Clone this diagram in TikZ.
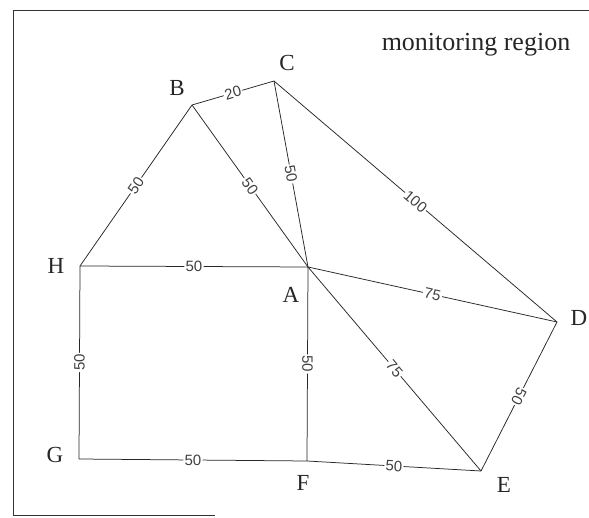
\documentclass[tikz,border=0pt]{standalone}
\usepackage{fontspec}
\setmainfont{Liberation Serif}
\newfontfamily\edgefont{Liberation Sans}
\begin{document}
\begin{tikzpicture}[x=1pt,y=-1pt,
  edge/.style={draw=black!85,line width=0.75pt},
  wlabel/.style={midway,sloped,allow upside down,fill=white,inner sep=1.2pt,
    font=\edgefont\fontsize{15}{15}\selectfont,text=black!75},
  vlabel/.style={inner sep=0pt,font=\fontsize{23}{23}\selectfont,text=black!85},
  frame/.style={draw=black!80,line width=0.8pt}]
\useasboundingbox (0,0) rectangle (589,518);
% frame
\coordinate (f1) at (589,10);
\coordinate (f2) at (13,10);
\coordinate (f3) at (13,515);
\coordinate (f4) at (215,515);
\draw[frame] (f1) -- (f2) -- (f3) -- (f4);
\node[inner sep=0pt,font=\fontsize{26}{26}\selectfont,text=black!85] (title) at (476,45) {monitoring region};
% vertices
\coordinate (A) at (308,267);
\coordinate (B) at (192,105);
\coordinate (C) at (274,81);
\coordinate (D) at (557,322);
\coordinate (E) at (481,471);
\coordinate (F) at (307,461);
\coordinate (G) at (79,459);
\coordinate (H) at (80,266);
% vertex labels
\node[vlabel] (lA) at (291,295) {A};
\node[vlabel] (lB) at (177,88) {B};
\node[vlabel] (lC) at (287,63) {C};
\node[vlabel] (lD) at (579,318) {D};
\node[vlabel] (lE) at (504,485) {E};
\node[vlabel] (lF) at (303,483) {F};
\node[vlabel] (lG) at (55,455) {G};
\node[vlabel] (lH) at (56,266) {H};
% edges
\draw[edge] (B) -- node[wlabel] {20} (C);
\draw[edge] (H) -- node[wlabel] {50} (B);
\draw[edge] (B) -- node[wlabel] {50} (A);
\draw[edge] (C) -- node[wlabel] {50} (A);
\draw[edge] (C) -- node[wlabel] {100} (D);
\draw[edge] (H) -- node[wlabel] {50} (A);
\draw[edge] (A) -- node[wlabel] {75} (D);
\draw[edge] (A) -- node[wlabel] {75} (E);
\draw[edge] (A) -- node[wlabel] {50} (F);
\draw[edge] (G) -- node[wlabel] {50} (H);
\draw[edge] (G) -- node[wlabel] {50} (F);
\draw[edge] (F) -- node[wlabel] {50} (E);
\draw[edge] (D) -- node[wlabel] {50} (E);
\end{tikzpicture}
\end{document}
